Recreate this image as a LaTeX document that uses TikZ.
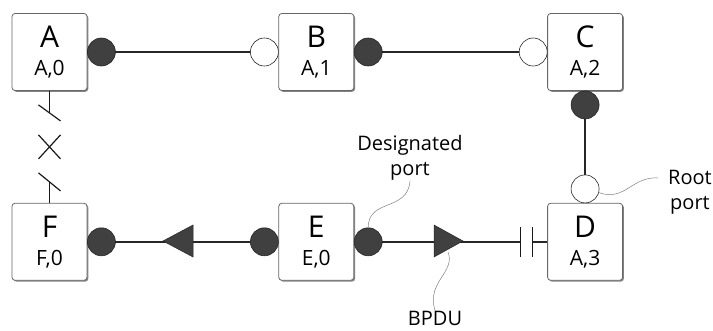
\documentclass[tikz,border=0pt]{standalone}
\usepackage{fontspec}
\setmainfont{Open Sans}
\usetikzlibrary{positioning,shadows,calc}

\newcommand{\swtxt}[2]{{\fontsize{30}{28}\selectfont #1}\\#2}

\begin{document}
\begin{tikzpicture}[x=1pt, y=-1pt,
  sw/.style={draw=black!60, line width=0.8pt, rounded corners=3pt,
             fill=white, minimum width=75pt, minimum height=77pt,
             align=center, inner sep=0pt, font=\fontsize{21}{28}\selectfont,
             drop shadow={shadow xshift=1.3pt, shadow yshift=-1.3pt,
                          fill=black!60, opacity=0.8}},
  dp/.style={circle, draw=black!85, fill=black!75, line width=0.6pt,
             minimum size=28pt, inner sep=0pt, outer sep=0pt},
  rp/.style={dp, fill=white},
  lk/.style={line width=2pt, black!85},
  bk/.style={line width=1.2pt, black!90},
  tri/.style={fill=black!75, draw=black!85, line width=0.5pt},
  co/.style={black!50, line width=0.5pt},
  lbl/.style={font=\fontsize{20}{25}\selectfont, align=center, inner sep=0pt}
]
  \useasboundingbox (0,0) rectangle (713,330);

  % switches
  \node[sw] (A) at (49.5,52) {\swtxt{A}{A,0}};
  \node[sw, right=191pt of A] (B) {\swtxt{B}{A,1}};
  \node[sw, right=193pt of B] (C) {\swtxt{C}{A,2}};
  \node[sw, below=112pt of A] (F) {\swtxt{F}{F,0}};
  \node[sw, below=112pt of B] (E) {\swtxt{E}{E,0}};
  \node[sw, below=112pt of C] (D) {\swtxt{D}{A,3}};

  % ports
  \node[dp, right=0pt of A] (Ae) {};
  \node[rp, left=0pt of B]  (Bw) {};
  \node[dp, right=0pt of B] (Be) {};
  \node[rp, left=0pt of C]  (Cw) {};
  \node[dp, below=0pt of C] (Cs) {};
  \node[rp, above=0pt of D] (Dn) {};
  \node[dp, left=0pt of E]  (Ew) {};
  \node[dp, right=0pt of E] (Ee) {};
  \node[dp, right=0pt of F] (Fe) {};

  % links
  \draw[lk] (Ae) -- (Bw);
  \draw[lk] (Be) -- (Cw);
  \draw[lk] (Cs) -- (Dn);
  \draw[lk] (Ew) -- (Fe);

  \coordinate[left=27pt of D.west] (g1);
  \coordinate[left=15pt of D.west] (g2);
  \draw[lk] (Ee) -- (g1);
  \draw[lk] (g2) -- (D.west);
  \draw[bk] ([yshift=15pt]g1) -- ([yshift=-15pt]g1);
  \draw[bk] ([yshift=15pt]g2) -- ([yshift=-15pt]g2);

  % BPDUs
  \coordinate (t1) at (448,241);
  \coordinate (t2) at (178,241);
  \filldraw[tri] (t1) ++(-14,-16) -- ++(29,16) -- ++(-29,16) -- cycle;
  \filldraw[tri] (t2) ++(15,-16) -- ++(-30,16) -- ++(30,16) -- cycle;

  % blocked link
  \coordinate (x0) at ($(A.south)!0.5!(F.north)$);
  \draw[bk] (A.south) -- ++(0,22) coordinate (s1);
  \draw[bk] (s1) ++(-11,-8) -- ++(22,16);
  \draw[bk] (F.north) -- ++(0,-21) coordinate (s2);
  \draw[bk] (s2) ++(-11,-9) -- ++(22,18);
  \draw[bk] (x0) ++(-11,-12) -- ++(22,24);
  \draw[bk] (x0) ++(-11,12) -- ++(22,-24);

  % labels
  \node[lbl] (dlbl) at (410,158) {Designated\\port};
  \node[lbl] (rlbl) at (690,192) {Root\\port};
  \node[lbl] (blbl) at (435,318) {BPDU};
  \coordinate (rend) at (658,178);

  \draw[co] (dlbl.south) .. controls (408,212) and (368,198) .. (Ee.north);
  \draw[co] (Dn.-15) .. controls (625,202) and (632,176) .. (rend);
  \draw[co] ([yshift=-11pt]t1) .. controls (456,272) and (426,282) .. (blbl.north);
\end{tikzpicture}
\end{document}
